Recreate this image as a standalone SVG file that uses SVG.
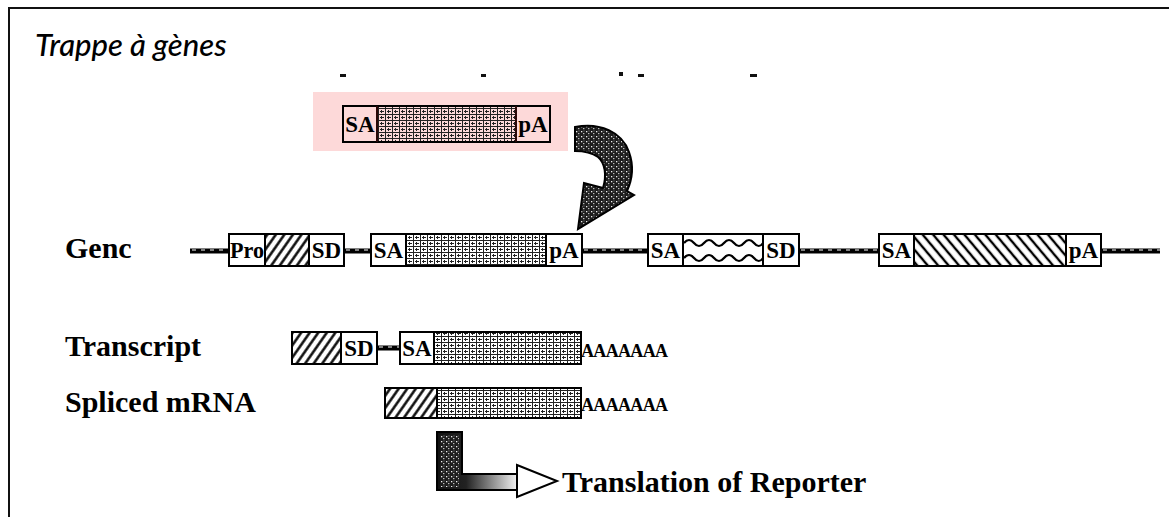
<svg xmlns="http://www.w3.org/2000/svg" width="1169" height="517" viewBox="0 0 1169 517">
<style>
.frame{stroke:#111;stroke-width:2;fill:none}
.box{stroke:#000;stroke-width:2;fill:none}
.lbl{font-family:"Liberation Serif","Times New Roman",serif;font-weight:bold;font-size:30px;fill:#000}
.in{font-family:"Liberation Serif","Times New Roman",serif;font-weight:bold;font-size:23px;fill:#000;text-anchor:middle}
.polyA{font-family:"Liberation Serif","Times New Roman",serif;font-weight:bold;font-size:18px;fill:#000}
.rope{stroke:#000;stroke-width:5;fill:none}
.ropehl{stroke:#fff;stroke-width:1;fill:none;stroke-dasharray:4 5}
.wave{stroke:#000;stroke-width:2.2;fill:none}
.title{font-family:Lato,"Open Sans",sans-serif;font-style:italic;font-weight:500;font-size:31px;fill:#000}
</style>
<defs>
<pattern id="grid" width="7" height="6" patternUnits="userSpaceOnUse"><path d="M0.5 0V6M0 0.5H7M2 3.5H6M3.5 2V5" stroke="#222" stroke-width="1" fill="none"/></pattern>
<pattern id="dark" width="5" height="5" patternUnits="userSpaceOnUse"><rect width="5" height="5" fill="#1c1c1c"/><rect x="1" y="1" width="1.3" height="1.3" fill="#eee"/><rect x="3" y="3" width="1.4" height="1.2" fill="#bbb"/><rect x="3.5" y="0.5" width="1" height="1" fill="#888"/></pattern>
<pattern id="hatchR" width="7" height="7" patternUnits="userSpaceOnUse" patternTransform="rotate(35)"><line x1="3.5" y1="0" x2="3.5" y2="7" stroke="#000" stroke-width="2.4"/></pattern>
<pattern id="hatchL" width="8" height="8" patternUnits="userSpaceOnUse" patternTransform="rotate(-40)"><line x1="4" y1="0" x2="4" y2="8" stroke="#000" stroke-width="2.4"/></pattern>
<linearGradient id="lgrad" gradientUnits="userSpaceOnUse" x1="437" y1="0" x2="520" y2="0"><stop offset="0" stop-color="#111"/><stop offset="0.35" stop-color="#222"/><stop offset="1" stop-color="#fff"/></linearGradient>
</defs>
<rect width="1169" height="517" fill="#fff"/>
<g id="frame"><path class="frame" d="M9 517V8H1169"/></g>
<g id="title"><text class="title" x="35" y="56">Trappe à gènes</text></g>
<g id="cutoff-marks" fill="#111"><rect x="340" y="74" width="6" height="3"/><rect x="481" y="74" width="5" height="3"/><rect x="619" y="72" width="4" height="4"/><rect x="638" y="74" width="6" height="3"/><rect x="750" y="74" width="7" height="3"/></g>
<g id="cassette">
<rect x="313" y="92" width="255" height="59" fill="#fdd9d9"/>
<rect x="377" y="106" width="139" height="36" fill="url(#grid)"/>
<rect class="box" x="343" y="106" width="207" height="36" stroke="#2a0808"/>
<line x1="377" y1="106" x2="377" y2="142" stroke="#2a0808" stroke-width="2"/>
<line x1="516" y1="106" x2="516" y2="142" stroke="#2a0808" stroke-width="2"/>
<text class="in" x="360" y="132">SA</text><text class="in" x="533" y="132">pA</text>
</g>
<g id="insert-arrow"><path d="M575,127 C600,122 622,132 629,152 C634,166 632,180 627,191 L634,195 L578,229 L584,183 L603,188 C607,175 605,163 598,157 C591,152 584,151 575,151 Z" fill="url(#dark)" stroke="#000" stroke-width="2"/></g>
<g id="connectors">
<path class="rope" d="M190 251H229M344 251H371M582 251H648M799 251H879M1101 251H1160M377 348H400"/>
<path class="ropehl" d="M192 250H229M346 250H371M584 250H648M801 250H879M1103 250H1160M379 347H400"/>
</g>
<g id="gene">
<text class="lbl" x="65" y="258">Genc</text>
<rect x="265" y="234" width="44" height="32" fill="url(#hatchR)"/>
<rect class="box" x="229" y="234" width="115" height="32"/>
<line x1="265" y1="234" x2="265" y2="266" stroke="#000" stroke-width="2"/><line x1="309" y1="234" x2="309" y2="266" stroke="#000" stroke-width="2"/>
<text class="in" x="247" y="258" textLength="34" lengthAdjust="spacingAndGlyphs">Pro</text><text class="in" x="326.5" y="258">SD</text>
<rect x="406" y="234" width="140" height="32" fill="url(#grid)"/>
<rect class="box" x="371" y="234" width="211" height="32"/>
<line x1="406" y1="234" x2="406" y2="266" stroke="#000" stroke-width="2"/><line x1="546" y1="234" x2="546" y2="266" stroke="#000" stroke-width="2"/>
<text class="in" x="388.5" y="258">SA</text><text class="in" x="564" y="258">pA</text>
<rect class="box" x="648" y="234" width="151" height="32"/>
<line x1="683" y1="234" x2="683" y2="266" stroke="#000" stroke-width="2"/><line x1="763" y1="234" x2="763" y2="266" stroke="#000" stroke-width="2"/>
<path class="wave" d="M684,243 q5,-6 10,0 t10,0 t10,0 t10,0 t10,0 t10,0 t10,0 t9,0M684,258 q5,-6 10,0 t10,0 t10,0 t10,0 t10,0 t10,0 t10,0 t9,0"/>
<text class="in" x="665.5" y="258">SA</text><text class="in" x="781" y="258">SD</text>
<rect x="914" y="234" width="152" height="32" fill="url(#hatchL)"/>
<rect class="box" x="879" y="234" width="222" height="32"/>
<line x1="914" y1="234" x2="914" y2="266" stroke="#000" stroke-width="2"/><line x1="1066" y1="234" x2="1066" y2="266" stroke="#000" stroke-width="2"/>
<text class="in" x="896.5" y="258">SA</text><text class="in" x="1083.5" y="258">pA</text>
</g>
<g id="transcript">
<text class="lbl" x="65" y="356">Transcript</text>
<rect x="292" y="332" width="49" height="32" fill="url(#hatchR)"/>
<rect class="box" x="292" y="332" width="85" height="32"/>
<line x1="341" y1="332" x2="341" y2="364" stroke="#000" stroke-width="2"/>
<text class="in" x="359" y="356">SD</text>
<rect x="434" y="332" width="147" height="32" fill="url(#grid)"/>
<rect class="box" x="400" y="332" width="181" height="32"/>
<line x1="434" y1="332" x2="434" y2="364" stroke="#000" stroke-width="2"/>
<text class="in" x="417" y="356">SA</text>
<text class="polyA" x="581" y="357" textLength="87" lengthAdjust="spacing">AAAAAAA</text>
</g>
<g id="spliced">
<text class="lbl" x="65" y="412">Spliced mRNA</text>
<rect x="385" y="388" width="52" height="30" fill="url(#hatchR)"/>
<rect x="437" y="388" width="144" height="30" fill="url(#grid)"/>
<rect class="box" x="385" y="388" width="196" height="30"/>
<line x1="437" y1="388" x2="437" y2="418" stroke="#000" stroke-width="2"/>
<text class="polyA" x="581" y="411" textLength="87" lengthAdjust="spacing">AAAAAAA</text>
</g>
<g id="translation">
<path d="M437,432 H462 V474 H517 V490 H437 Z" fill="url(#lgrad)" stroke="#000" stroke-width="2"/>
<rect x="440" y="435" width="19" height="52" fill="url(#dark)"/>
<path d="M517,465 L557,481 L517,497 Z" fill="#fff" stroke="#000" stroke-width="2"/>
<text class="lbl" x="562" y="492">Translation of Reporter</text>
</g>
</svg>
